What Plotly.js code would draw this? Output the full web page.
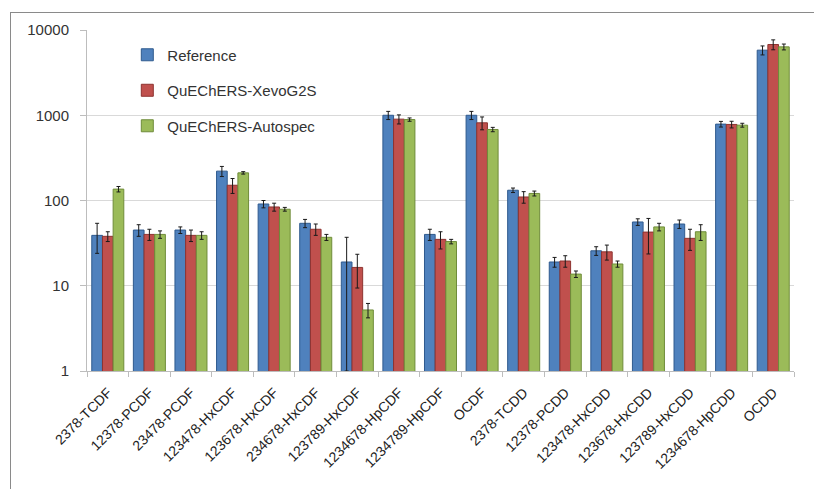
<!DOCTYPE html>
<html><head><meta charset="utf-8">
<script src="https://cdn.plot.ly/plotly-3.0.1.min.js"></script>
<style>
html,body{margin:0;padding:0;background:#fff;}
#wrap{position:relative;width:814px;height:489px;}
#chart{position:absolute;left:0;top:0;width:814px;height:489px;}
#frame{position:absolute;left:10px;top:12px;width:820px;height:500px;border-top:1px solid #8a8a8a;border-left:1px solid #8a8a8a;pointer-events:none;}
</style></head>
<body>
<div id="wrap"><div id="chart"></div><div id="frame"></div></div>
<script>
const categories = ["2378-TCDF","12378-PCDF","23478-PCDF","123478-HxCDF","123678-HxCDF","234678-HxCDF","123789-HxCDF","1234678-HpCDF","1234789-HpCDF","OCDF","2378-TCDD","12378-PCDD","123478-HxCDD","123678-HxCDD","123789-HxCDD","1234678-HpCDD","OCDD"];
const referenceValues = [39,45,45,221,91,54,19,1000,40,1000,132,19,25.7,56,53,787,5800];
const referenceErrors = [15,7,4,30,9,6,18,110,6,110,8,2.5,3,5,6,60,700];
const xevoValues = [38,40,39,151,84,46,16.4,900,35,815,110,19.5,25,42.6,36,780,6760];
const xevoErrors = [5,6,6,30,9,7,7,110,8,140,17,3,5,19,10,70,900];
const autospecValues = [136,40,39,211,79,37,5.2,890,33,681,121,13.7,18,49,43,765,6340];
const autospecErrors = [10,4,4,7,4,3,1,40,2,40,8,1.2,1.5,5,9,40,500];
const seriesNames = ["Reference","QuEChERS-XevoG2S","QuEChERS-Autospec"];
const yTickVals = [1,10,100,1000,10000];
const yTickText = ["1","10","100","1000","10000"];

const fills = ["#4F81BD","#C0504D","#9BBB59"];
const lines = ["#2F5A8E","#8E3330","#6F8C3A"];
const vals = [referenceValues, xevoValues, autospecValues];
const errs = [referenceErrors, xevoErrors, autospecErrors];

const data = seriesNames.map((n,i)=>({
  type:'bar', name:n, x:categories, y:vals[i], legendgroup:'g'+i,
  marker:{color:fills[i], line:{color:lines[i], width:1}},
  error_y:{type:'data', array:errs[i], visible:true, color:'#1a1a1a', thickness:1, width:2}
}));

const layout = {
  width:814, height:489,
  margin:{l:87, r:20, t:30, b:118},
  paper_bgcolor:'rgba(0,0,0,0)', plot_bgcolor:'#fff',
  barmode:'group', bargap:0.23, bargroupgap:0,
  font:{family:'"Liberation Sans", Arial, sans-serif', color:'#333'},
  showlegend:true,
  legend:{x:0.057, y:0.975, xanchor:'left', yanchor:'top', bgcolor:'rgba(0,0,0,0)',
    font:{size:15, color:'#333'}, tracegroupgap:13, itemwidth:30},
  xaxis:{type:'category', tickangle:-45, tickson:'boundaries', ticks:'outside', ticklen:5,
    tickcolor:'#bdbdbd', showline:true, linecolor:'#bdbdbd', showgrid:false,
    tickfont:{size:14, color:'#222'}, ticklabelstandoff:7, automargin:false},
  yaxis:{type:'log', range:[0,4], tickvals:yTickVals, ticktext:yTickText,
    ticks:'outside', ticklen:6, tickcolor:'#bdbdbd', showline:true, linecolor:'#bdbdbd',
    showgrid:true, gridcolor:'#d9d9d9', gridwidth:1, zeroline:false,
    tickfont:{size:15, color:'#333'}, ticklabelstandoff:8, automargin:false}
};
Plotly.newPlot('chart', data, layout, {staticPlot:true, displayModeBar:false});
</script>
</body></html>
